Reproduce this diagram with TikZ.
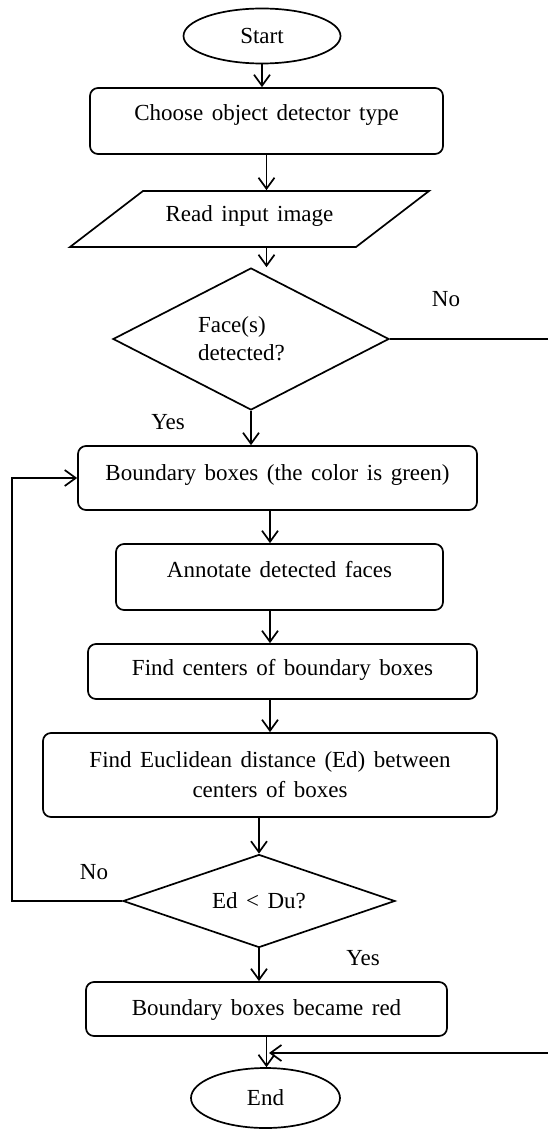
\documentclass[tikz,border=0pt]{standalone}
\usepackage{fontspec}
\setmainfont{Liberation Serif}
\usetikzlibrary{shapes.geometric,arrows.meta,calc}
\begin{document}
\begin{tikzpicture}[x=1pt,y=-1pt,
  every node/.style={font=\fontsize{23}{28}\selectfont, execute at begin node={\spaceskip=0.37em\relax}},
  box/.style={draw, line width=1.7pt, rounded corners=8pt, inner xsep=0pt, inner ysep=0pt, anchor=base},
  term/.style={draw, ellipse, line width=1.7pt, inner sep=0pt},
  dec/.style={draw, diamond, line width=1.7pt, inner sep=0pt},
  io/.style={draw, trapezium, trapezium left angle=37.5, trapezium right angle=142.5,
     trapezium stretches body=true, line width=1.7pt, inner sep=0pt, anchor=base},
  arr/.style={line width=1.7pt, -{Straight Barb[length=11pt,width=16pt]}},
  lbl/.style={inner sep=0pt}
]
\useasboundingbox (0,0) rectangle (547,1129);

\node[term, minimum width=157pt, minimum height=55pt] (start) at (262,36) {Start};
\node[box, minimum width=353pt, text height=33pt, text depth=33pt] (choose) at (266.5,121) {Choose object detector type};
\node[io, minimum width=359pt, text height=30pt, text depth=26pt] (read) at (249.5,221) {Read input image};
\node[dec, minimum width=276pt, minimum height=142pt, aspect=1.94, text width=106pt, align=left] (d1) at (251,339) {Face(s)\\detected?};
\node[box, minimum width=399pt, text height=34pt, text depth=30pt] (bound) at (277.5,480) {Boundary boxes (the color is green)};
\node[box, minimum width=327pt, text height=33pt, text depth=33pt] (annot) at (279.5,577) {Annotate detected faces};
\node[box, minimum width=389pt, text height=31pt, text depth=24pt] (find) at (282.5,675) {Find centers of boundary boxes};
\node[box, anchor=center, minimum width=454pt, minimum height=84pt, align=center, font=\fontsize{23}{30}\selectfont] (euclid) at (270,775) {Find Euclidean distance (Ed) between\\centers of boxes};
\node[dec, minimum width=272pt, minimum height=93pt, aspect=2.9] (d2) at (259,901) {Ed < Du?};
\node[box, minimum width=361pt, text height=33pt, text depth=21pt] (red) at (266.5,1015) {Boundary boxes became red};
\node[term, minimum width=149pt, minimum height=60pt] (end) at (265.5,1098) {End};

\node[lbl] (no1) at (446,299) {No};
\node[lbl] (yes1) at (168,422) {Yes};
\node[lbl] (no2) at (94,872) {No};
\node[lbl] (yes2) at (363,958) {Yes};

\coordinate (loopL) at (12,901);
\coordinate (farR) at (560,339);
\coordinate (merge) at (269,1053);

\draw[arr] (start.south) -- (start.south |- choose.north);
\draw[arr] (choose.south) -- (choose.south |- read.north);
\draw[arr] (read.south -| choose.south) -- (choose.south |- d1.north);
\draw[arr] (d1.south) -- (d1.south |- bound.north);
\draw[arr] (bound.south -| euclid.north) -- (annot.north -| euclid.north);
\draw[arr] (annot.south -| euclid.north) -- (find.north -| euclid.north);
\draw[arr] (find.south -| euclid.north) -- (euclid.north);
\draw[arr] (euclid.south -| d2.north) -- (d2.north);
\draw[arr] (d2.south) -- (d2.south |- red.north);
\draw[arr] (red.south) -- (red.south |- end.north);
\draw[arr] (d2.west) -| (loopL) |- (bound.west);
\draw[arr] (d1.east) -- (d1.east -| farR) |- (merge);
\end{tikzpicture}
\end{document}
